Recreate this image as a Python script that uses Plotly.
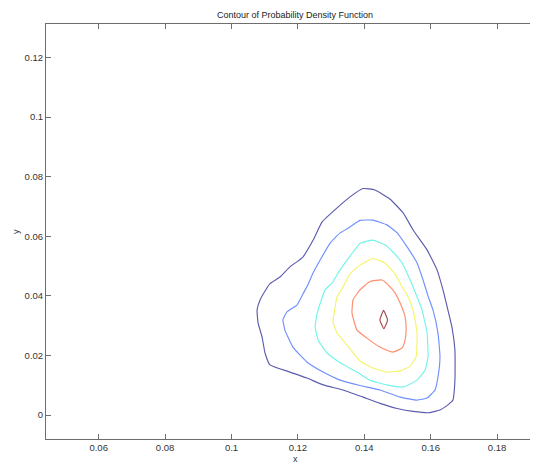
import plotly.graph_objects as go

# Contour levels (x, y in data units), outermost first
c1_x = [0.1396, 0.1432, 0.1477, 0.1517, 0.1547, 0.1589, 0.1619, 0.1637, 0.1652, 0.1664,
        0.1673, 0.1673, 0.1667, 0.1652, 0.1628, 0.1598, 0.1547, 0.1499, 0.1447, 0.1396,
        0.1336, 0.1276, 0.1227, 0.1176, 0.1116, 0.1101, 0.1092, 0.1080, 0.1077, 0.1086,
        0.1101, 0.1116, 0.1146, 0.1176, 0.1215, 0.1246, 0.1273, 0.1318, 0.1357, 0.1396]
c1_y = [0.0760, 0.0755, 0.0725, 0.0678, 0.0621, 0.0554, 0.0487, 0.0420, 0.0352, 0.0295,
        0.0218, 0.0117, 0.0050, 0.0034, 0.0017, 0.0008, 0.0012, 0.0022, 0.0039, 0.0060,
        0.0084, 0.0101, 0.0124, 0.0144, 0.0168, 0.0208, 0.0262, 0.0309, 0.0352, 0.0386,
        0.0416, 0.0441, 0.0463, 0.0497, 0.0530, 0.0587, 0.0648, 0.0695, 0.0732, 0.0760]

c2_x = [0.1387, 0.1426, 0.1468, 0.1499, 0.1529, 0.1559, 0.1577, 0.1592, 0.1607, 0.1622,
        0.1628, 0.1622, 0.1613, 0.1589, 0.1559, 0.1508, 0.1447, 0.1387, 0.1327, 0.1276,
        0.1227, 0.1185, 0.1161, 0.1155, 0.1167, 0.1197, 0.1215, 0.1227, 0.1246, 0.1267,
        0.1297, 0.1327, 0.1357, 0.1387]
c2_y = [0.0653, 0.0654, 0.0638, 0.0611, 0.0564, 0.0510, 0.0453, 0.0399, 0.0352, 0.0275,
        0.0195, 0.0128, 0.0084, 0.0057, 0.0050, 0.0060, 0.0084, 0.0099, 0.0117, 0.0144,
        0.0178, 0.0228, 0.0285, 0.0319, 0.0346, 0.0369, 0.0406, 0.0430, 0.0477, 0.0520,
        0.0577, 0.0611, 0.0631, 0.0653]

c3_x = [0.1387, 0.1426, 0.1462, 0.1486, 0.1514, 0.1538, 0.1559, 0.1574, 0.1589, 0.1592,
        0.1583, 0.1559, 0.1517, 0.1468, 0.1417, 0.1378, 0.1327, 0.1288, 0.1261, 0.1252,
        0.1258, 0.1282, 0.1303, 0.1327, 0.1348, 0.1378, 0.1387]
c3_y = [0.0576, 0.0587, 0.0571, 0.0547, 0.0510, 0.0453, 0.0396, 0.0352, 0.0275, 0.0195,
        0.0151, 0.0117, 0.0094, 0.0101, 0.0117, 0.0144, 0.0175, 0.0208, 0.0252, 0.0295,
        0.0342, 0.0420, 0.0443, 0.0487, 0.0520, 0.0564, 0.0576]

c4_x = [0.1426, 0.1462, 0.1493, 0.1514, 0.1529, 0.1547, 0.1559, 0.1556, 0.1538, 0.1508,
        0.1468, 0.1426, 0.1387, 0.1348, 0.1318, 0.1306, 0.1312, 0.1318, 0.1336, 0.1357,
        0.1387, 0.1426]
c4_y = [0.0525, 0.0510, 0.0473, 0.0430, 0.0403, 0.0352, 0.0275, 0.0195, 0.0164, 0.0148,
        0.0144, 0.0158, 0.0181, 0.0235, 0.0275, 0.0309, 0.0362, 0.0396, 0.0430, 0.0473,
        0.0503, 0.0525]

c5_x = [0.1417, 0.1453, 0.1477, 0.1493, 0.1508, 0.1523, 0.1526, 0.1523, 0.1514, 0.1486,
        0.1447, 0.1408, 0.1378, 0.1363, 0.1366, 0.1387, 0.1417]
c5_y = [0.0448, 0.0453, 0.0431, 0.0409, 0.0376, 0.0329, 0.0285, 0.0252, 0.0225, 0.0211,
        0.0228, 0.0258, 0.0285, 0.0342, 0.0386, 0.0420, 0.0448]

c6_x = [0.1458, 0.1470, 0.1459, 0.1447, 0.1458]
c6_y = [0.0351, 0.0319, 0.0290, 0.0319, 0.0351]

level_x = [c1_x, c2_x, c3_x, c4_x, c5_x, c6_x]
level_y = [c1_y, c2_y, c3_y, c4_y, c5_y, c6_y]
level_colors = ["#5c5cae", "#7090ff", "#72f4ea", "#f4f46c", "#ff8c6c", "#a84c4c"]

x_ticks = [0.06, 0.08, 0.1, 0.12, 0.14, 0.16, 0.18]
x_tick_labels = ["0.06", "0.08", "0.1", "0.12", "0.14", "0.16", "0.18"]
y_ticks = [0, 0.02, 0.04, 0.06, 0.08, 0.1, 0.12]
y_tick_labels = ["0", "0.02", "0.04", "0.06", "0.08", "0.1", "0.12"]

fig = go.Figure()
for xs, ys, col in zip(level_x, level_y, level_colors):
    fig.add_trace(go.Scatter(x=xs, y=ys, mode="lines",
                             line=dict(color=col, width=1.15, shape="spline", smoothing=0.4),
                             hoverinfo="skip", showlegend=False))

font_family = "Liberation Sans, Arial, Helvetica, sans-serif"
axis_col = "#6e6e6e"

# the page body has an 8px default margin, so the figure is 8px smaller
fig.update_layout(
    width=530, height=455,
    margin=dict(l=38, r=0, t=16, b=24),
    paper_bgcolor="white", plot_bgcolor="white",
    font=dict(family=font_family, size=9.5, color="#333333"),
    title=dict(text="Contour of Probability Density Function",
               font=dict(size=9, color="#222222", family=font_family),
               x=287 / 530, xref="container", xanchor="center",
               y=1 - 6.5 / 455, yref="container", yanchor="middle"),
    showlegend=False,
)
fig.update_xaxes(range=[0.044127, 0.19232], tickvals=x_ticks, ticktext=x_tick_labels,
                 showline=True, linecolor=axis_col, linewidth=1, mirror="ticks",
                 ticks="inside", ticklen=5, tickcolor=axis_col,
                 showgrid=False, zeroline=False, fixedrange=True)
fig.update_yaxes(range=[-0.008054, 0.13121], tickvals=y_ticks, ticktext=y_tick_labels,
                 showline=True, linecolor=axis_col, linewidth=1, mirror=False,
                 ticks="inside", ticklen=5, tickcolor=axis_col,
                 showgrid=False, zeroline=False, fixedrange=True)

fig.add_annotation(text="x", xref="paper", yref="paper", x=(295 - 46) / 492, y=-19.5 / 415,
                   showarrow=False, xanchor="center", yanchor="middle",
                   font=dict(size=9, color="#333333"))
fig.add_annotation(text="y", xref="paper", yref="paper", x=(16 - 46) / 492, y=(439 - 232) / 415,
                   showarrow=False, xanchor="center", yanchor="middle", textangle=-90,
                   font=dict(size=9, color="#333333"))

fig.write_html("out.html")
